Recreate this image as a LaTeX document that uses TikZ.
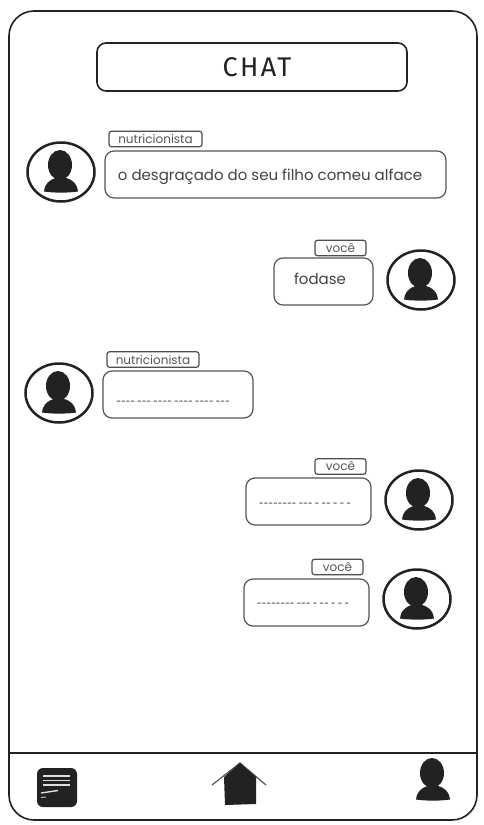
\documentclass[tikz,border=0pt]{standalone}
\usepackage{fontspec}
\setmainfont{Poppins}
\newfontfamily\titlefont[LetterSpace=9]{Fira Sans}
\newfontfamily\dashfont{Poppins Medium}
\definecolor{ink}{HTML}{222222}
\definecolor{soft}{HTML}{555555}
\newcommand{\lowtext}[2]{\raisebox{#1}[0pt][0pt]{#2}}
\tikzset{
  x=1pt,y=-1pt,
  frame/.style={draw=ink,line width=1.6pt,rounded corners=25pt},
  titlebox/.style={draw=ink,line width=1.6pt,rounded corners=9pt,minimum width=310pt,minimum height=48pt,inner sep=0pt,font=\titlefont\fontsize{27}{27}\selectfont,text=ink},
  bubble/.style={draw=soft,line width=1.2pt,rounded corners=9pt,minimum height=47pt,inner sep=0pt,font=\fontsize{15}{16}\selectfont,text=ink!85!white},
  tagbox/.style={draw=ink!80!white,line width=1.2pt,rounded corners=2.5pt,minimum height=15.5pt,inner sep=0pt,font=\fontsize{12}{12}\selectfont,text=soft},
  ring/.style={draw=ink,line width=2.5pt,ellipse,minimum width=67pt,minimum height=59pt,inner sep=0pt},
  dots/.style={font=\dashfont\fontsize{8}{8}\selectfont,text=ink},
  pics/figure/.style={code={
    \fill[ink] (-1,-7) ellipse [x radius=12pt,y radius=15pt];
    \fill[ink] (-17,19.5) .. controls (-16,10) and (-9,6) .. (0,5) .. controls (9,6) and (16,10) .. (17,19.5) .. controls (8,21) and (-8,21) .. (-17,19.5) -- cycle;
  }}
}
\usetikzlibrary{shapes.geometric}
\begin{document}
\begin{tikzpicture}
\useasboundingbox (0,0) rectangle (484,825);
\fill[white] (0,0) rectangle (484,825);
\draw[frame] (9,11) rectangle (477,820);
\coordinate (barL) at (9,753);
\coordinate (barR) at (477,753);
\draw[ink,line width=1.5pt] (barL) -- (barR);

\node[titlebox] (title) at (252,67) {\hspace*{10pt}CHAT};

% message 1
\node[ring] (av1) at (61,172) {};
\pic at (av1) {figure};
\node[tagbox,minimum width=93pt] (tag1) at (155.5,139) {nutricionista};
\node[bubble,minimum width=341pt] (msg1) at (275.5,174.5) {\hspace*{-11pt}\lowtext{-5.5pt}{o desgraçado do seu filho comeu alface}};

% message 2
\node[ring] (av2) at (421,280) {};
\pic at (av2) {figure};
\node[tagbox,minimum width=51pt] (tag2) at (340.5,248) {você};
\node[bubble,minimum width=99pt] (msg2) at (323.5,281.5) {\hspace*{-7pt}\lowtext{-3pt}{fodase}};

% message 3
\node[ring] (av3) at (59,393) {};
\pic at (av3) {figure};
\node[tagbox,minimum width=92pt] (tag3) at (153,359.5) {nutricionista};
\node[bubble,minimum width=150pt] (msg3) at (178,394.5) {};
\node[dots] (txt3) at (173,403) {---- --- ---- ---- ---- ---};

% message 4
\node[ring] (av4) at (419,500) {};
\pic at (av4) {figure};
\node[tagbox,minimum width=51pt] (tag4) at (340.5,466.5) {você};
\node[bubble,minimum width=125pt] (msg4) at (308.5,501.5) {};
\node[dots] (txt4) at (305,505) {-------- --- - -- - - -};

% message 5
\node[ring] (av5) at (417,599) {};
\pic at (av5) {figure};
\node[tagbox,minimum width=51pt] (tag5) at (337.5,567) {você};
\node[bubble,minimum width=125pt] (msg5) at (306.5,602.5) {};
\node[dots] (txt5) at (303,605) {-------- --- - -- - - -};

% bottom bar: note icon
\fill[ink,rounded corners=6pt] (37,768) rectangle (77,807);
\foreach \yy in {776,780.5,785}{\draw[white!85!ink,line width=1.4pt] (43,\yy) -- (70,\yy);}
\draw[white!85!ink,line width=1.4pt] (41,793) -- (58,790.5);
\draw[white!70!ink,line width=1pt] (41,797.5) -- (46,797);

% bottom bar: house icon
\draw[soft,line width=1.2pt] (212,785) -- (240,763) -- (266,785);
\fill[ink] (225,805) -- (224,777) -- (240,763) -- (256,777) -- (256,804) -- cycle;

% bottom bar: person icon
\pic at (433,780) {figure};
\end{tikzpicture}
\end{document}
